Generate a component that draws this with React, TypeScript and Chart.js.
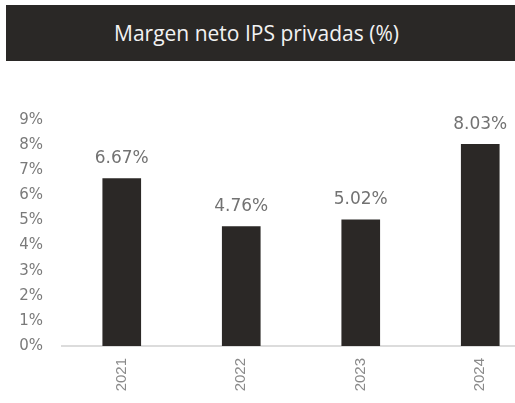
import React, { useEffect, useRef } from "react";
import { Chart, registerables } from "chart.js";

Chart.register(...registerables);

const title = "Margen neto IPS privadas (%)";
const categories = ["2021", "2022", "2023", "2024"];
const values = [6.67, 4.76, 5.02, 8.03];
const valueLabels = ["6.67%", "4.76%", "5.02%", "8.03%"];
const yTicks = [0, 1, 2, 3, 4, 5, 6, 7, 8, 9];

const barLabelPlugin = {
  id: "barLabels",
  afterDatasetsDraw(chart: any) {
    const ctx = chart.ctx;
    const meta = chart.getDatasetMeta(0);
    ctx.save();
    ctx.font = "17px 'DejaVu Sans'";
    ctx.fillStyle = "#727272";
    ctx.textAlign = "center";
    ctx.textBaseline = "middle";
    meta.data.forEach((bar: any, i: number) => {
      ctx.fillText(valueLabels[i], bar.x, bar.y - 20);
    });
    ctx.restore();
  },
};

export default function App() {
  const ref = useRef<HTMLCanvasElement>(null);
  useEffect(() => {
    const chart = new Chart(ref.current!, {
      type: "bar",
      data: {
        labels: categories,
        datasets: [
          {
            data: values,
            backgroundColor: "#2b2826",
            borderWidth: 0,
            barThickness: 38,
          },
        ],
      },
      options: {
        responsive: false,
        animation: false,
        layout: { padding: { top: 120, right: 10, left: 0, bottom: 0 } },
        plugins: {
          legend: { display: false },
          tooltip: { enabled: false },
        },
        scales: {
          x: {
            grid: { display: false, drawTicks: false },
            border: { display: true, color: "#dcdcdc", width: 2 },
            ticks: {
              color: "#8a8a8a",
              font: { family: "'Liberation Sans'", size: 15 },
              maxRotation: 90,
              minRotation: 90,
              padding: 12,
            },
            afterFit: (s: any) => {
              s.height = 57;
            },
          },
          y: {
            min: 0,
            max: 9,
            grid: { display: false, drawTicks: false },
            border: { display: false },
            afterBuildTicks: (s: any) => {
              s.ticks = yTicks.map((v) => ({ value: v }));
            },
            ticks: {
              color: "#7a7a7a",
              font: { family: "'DejaVu Sans'", size: 15 },
              padding: 19,
              callback: (v: any) => v + "%",
            },
            afterFit: (s: any) => {
              s.width = 62;
            },
          },
        },
      },
      plugins: [barLabelPlugin],
    });
    return () => chart.destroy();
  }, []);

  return (
    <div
      style={{
        position: "absolute",
        left: 0,
        top: 0,
        width: 515,
        height: 403,
        overflow: "hidden",
        background: "#ffffff",
      }}
    >
      <canvas
        ref={ref}
        width={550}
        height={403}
        style={{ position: "absolute", left: 0, top: 0, width: 550, height: 403 }}
      />
      <div
        style={{
          position: "absolute",
          left: 6,
          top: 5,
          width: 509,
          height: 56,
          background: "#2a2826",
          color: "#f2f2f2",
          fontFamily: "'Open Sans', sans-serif",
          fontSize: 21,
          display: "flex",
          alignItems: "center",
          justifyContent: "center",
          paddingRight: 8,
          boxSizing: "border-box",
        }}
      >
        {title}
      </div>
    </div>
  );
}
